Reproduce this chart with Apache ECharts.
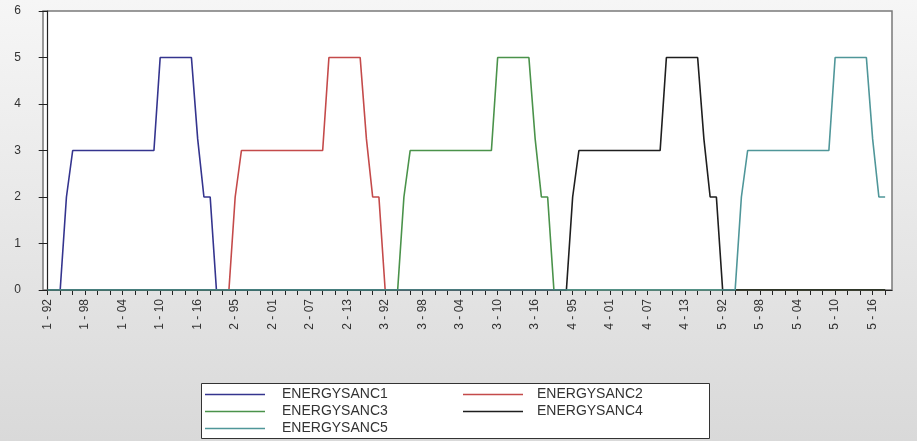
<!DOCTYPE html>
<html>
<head>
<meta charset="utf-8">
<script src="https://cdn.jsdelivr.net/npm/echarts@6/dist/echarts.min.js"></script>
<style>
html,body{margin:0;padding:0;}
#c{width:917px;height:441px;}
</style>
</head>
<body>
<div id="c"></div>
<script>
// ---- data ----
const crossSections = ['1', '2', '3', '4', '5'];
const years = ['92','93','94','95','96','97','98','99','00','01','02','03','04','05','06','07','08','09','10','11','12','13','14','15','16','17','18'];
const zeros = [0,0,0,0,0,0,0,0,0,0,0,0,0,0,0,0,0,0,0,0,0,0,0,0,0,0,0];
// values of each series inside its own cross-section (1992-2018)
const sanc1Own = [0,0,0,2,3,3,3,3,3,3,3,3,3,3,3,3,3,3,5,5,5,5,5,5,3.25,2,2];
const sanc2Own = [0,0,0,2,3,3,3,3,3,3,3,3,3,3,3,3,3,3,5,5,5,5,5,5,3.25,2,2];
const sanc3Own = [0,0,0,2,3,3,3,3,3,3,3,3,3,3,3,3,3,3,5,5,5,5,5,5,3.25,2,2];
const sanc4Own = [0,0,0,2,3,3,3,3,3,3,3,3,3,3,3,3,3,3,5,5,5,5,5,5,3.25,2,2];
const sanc5Own = [0,0,0,2,3,3,3,3,3,3,3,3,3,3,3,3,3,3,5,5,5,5,5,5,3.25,2,2];
const ENERGYSANC1 = [...sanc1Own, ...zeros, ...zeros, ...zeros, ...zeros];
const ENERGYSANC2 = [...zeros, ...sanc2Own, ...zeros, ...zeros, ...zeros];
const ENERGYSANC3 = [...zeros, ...zeros, ...sanc3Own, ...zeros, ...zeros];
const ENERGYSANC4 = [...zeros, ...zeros, ...zeros, ...sanc4Own, ...zeros];
const ENERGYSANC5 = [...zeros, ...zeros, ...zeros, ...zeros, ...sanc5Own];
const seriesNames = ['ENERGYSANC1','ENERGYSANC2','ENERGYSANC3','ENERGYSANC4','ENERGYSANC5'];
const seriesValues = [ENERGYSANC1, ENERGYSANC2, ENERGYSANC3, ENERGYSANC4, ENERGYSANC5];
const yTicks = [0,1,2,3,4,5,6];

// ---- build ----
const categories = [];
crossSections.forEach(s => years.forEach(y => categories.push(s + ' - ' + y)));
const tickIdx = [], labelIdx = [];
for (let i = 0; i < categories.length; i += 2) tickIdx.push(i);
for (let i = 0; i < categories.length; i += 6) labelIdx.push(i);

const colors = ['#34348e', '#c44a4a', '#4a924a', '#1e1e1e', '#4f9699'];
const font = "'Liberation Sans', Arial, sans-serif";

const chart = echarts.init(document.getElementById('c'), null, {renderer: 'canvas'});
chart.setOption({
  animation: false,
  backgroundColor: {
    type: 'linear', x: 0, y: 0, x2: 0, y2: 1,
    colorStops: [{offset: 0, color: '#f6f6f6'}, {offset: 1, color: '#d9d9d9'}]
  },
  grid: {
    left: 43, right: 25, top: 11, bottom: 151,
    show: true, backgroundColor: '#ffffff', borderColor: '#7a7a7a', borderWidth: 1.5
  },
  xAxis: {
    type: 'value',
    min: -0.75, max: 135.1,
    axisLine: {show: true, onZero: false, lineStyle: {color: '#222', width: 1.2}},
    axisTick: {show: true, length: 5, customValues: tickIdx, lineStyle: {color: '#222', width: 1}},
    axisLabel: {
      customValues: labelIdx, rotate: 90, margin: 9,
      fontFamily: font, fontSize: 12, color: '#333',
      formatter: v => categories[Math.round(v)]
    },
    splitLine: {show: false}
  },
  yAxis: {
    type: 'value', min: 0, max: 6, interval: 1,
    axisLine: {show: true, lineStyle: {color: '#222', width: 1.2}},
    axisTick: {show: true, length: 9, lineStyle: {color: '#222'}},
    axisLabel: {margin: 22, fontFamily: font, fontSize: 12, color: '#333',
      formatter: v => String(yTicks[v])},
    splitLine: {show: false}
  },
  graphic: [{
    type: 'rect', left: 201, top: 383, z: 1,
    shape: {width: 508, height: 55},
    style: {fill: '#ffffff', stroke: '#333333', lineWidth: 1}
  }],
  legend: [
    {
      data: ['ENERGYSANC1', 'ENERGYSANC3', 'ENERGYSANC5'],
      orient: 'vertical', left: 205, top: 386, z: 10, padding: 0,
      icon: 'rect', itemWidth: 60, itemHeight: 1.5, itemGap: 0,
      selectedMode: false,
      textStyle: {fontFamily: font, fontSize: 14, color: '#333', lineHeight: 17, padding: [0, 0, 0, 12]}
    },
    {
      data: ['ENERGYSANC2', 'ENERGYSANC4'],
      orient: 'vertical', left: 463, top: 386, z: 10, padding: 0,
      icon: 'rect', itemWidth: 60, itemHeight: 1.5, itemGap: 0,
      selectedMode: false,
      textStyle: {fontFamily: font, fontSize: 14, color: '#333', lineHeight: 17, padding: [0, 0, 0, 9]}
    }
  ],
  series: seriesNames.map((name, k) => ({
    name: name,
    type: 'line',
    data: seriesValues[k].map((v, i) => [i, v]),
    showSymbol: false,
    color: colors[k],
    lineStyle: {width: 1.6, color: colors[k]},
    z: 3 + k
  }))
});
</script>
</body>
</html>
